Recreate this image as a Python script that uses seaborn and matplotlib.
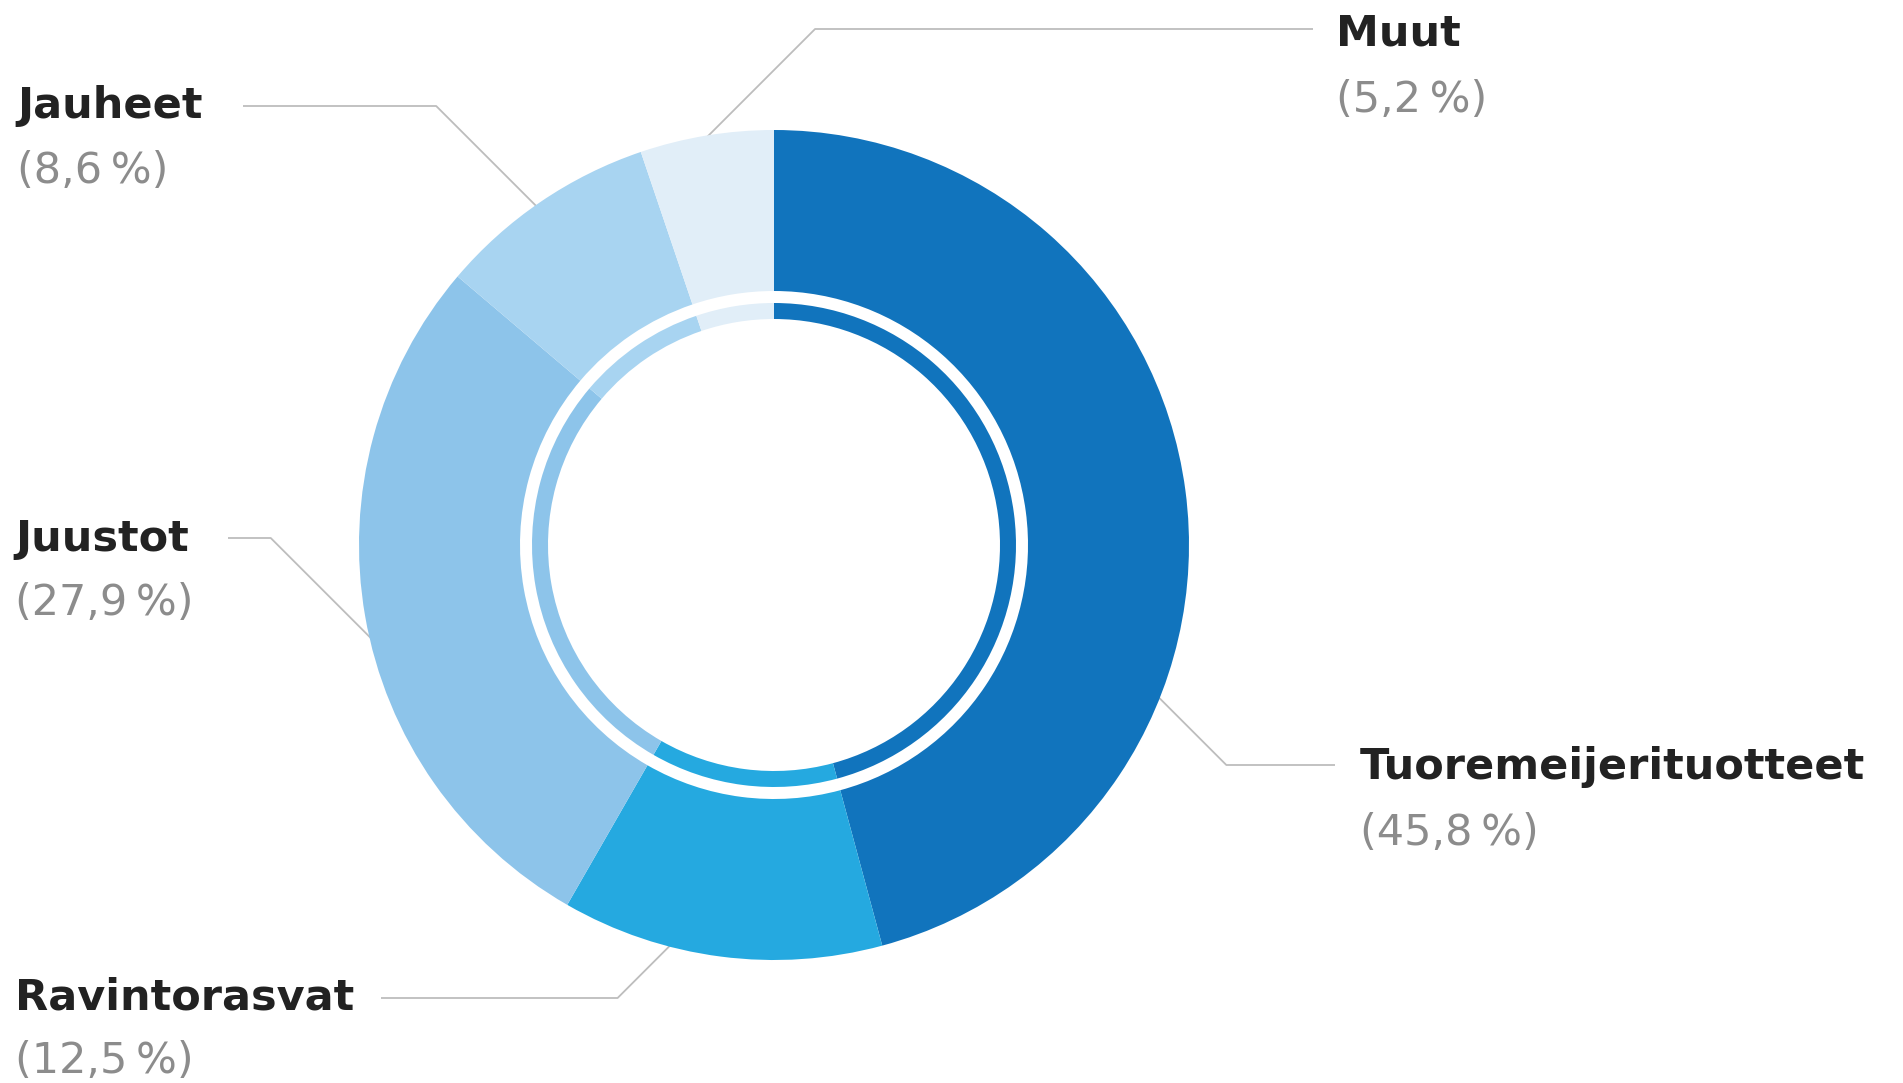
import matplotlib
matplotlib.use("Agg", force=True)
import matplotlib.pyplot as plt
import numpy as np
import seaborn as sns

# product group shares of net sales (%)
categories = ["Tuoremeijerituotteet", "Ravintorasvat", "Juustot", "Jauheet", "Muut"]
shares = [45.8, 12.5, 27.9, 8.6, 5.2]
colors = ["#1174bd", "#25a9e0", "#8dc4ea", "#a8d4f1", "#e1eef8"]

# label layout: anchor angle (deg, clockwise from top), leader y, leader end x, text x
anchor_angle = [111.5, 194.4, 256.6, 325.0, 350.4]
leader_y = [765, 998, 538, 106, 29]
leader_end_x = [1335, 381, 228, 243, 1313]
text_x = [1360, 15, 15, 17, 1336]
name_baseline = [779, 1009, 551, 118, 46]
pct_baseline = [845, 1073, 615, 183, 112]

W, H = 1903, 1083
CX, CY = 774, 538
R_OUT, R_OUT_IN = 415, 254
R_IN, R_IN_IN = 242, 226

sns.set_theme(style="white")
plt.rcParams["font.family"] = ["DejaVu Sans"]

fig = plt.figure(figsize=(W / 100, H / 100), dpi=100)
ax = fig.add_axes([0, 0, 1, 1])

ax.pie(shares, colors=colors, startangle=90, counterclock=False,
       radius=R_OUT, center=(CX, CY),
       wedgeprops=dict(width=R_OUT - R_OUT_IN, linewidth=0), normalize=True)
ax.pie(shares, colors=colors, startangle=90, counterclock=False,
       radius=R_IN, center=(CX, CY),
       wedgeprops=dict(width=R_IN - R_IN_IN, linewidth=0), normalize=True)

for i, name in enumerate(categories):
    a = np.deg2rad(anchor_angle[i])
    sx = CX + (R_OUT - 3) * np.sin(a)
    sy_px = (H - CY) - (R_OUT - 3) * np.cos(a)
    dy = abs(leader_y[i] - sy_px)
    ex = sx + dy if leader_end_x[i] > sx else sx - dy
    xs = [sx, ex, leader_end_x[i]]
    ys = [H - sy_px, H - leader_y[i], H - leader_y[i]]
    ax.plot(xs, ys, color="#bdbdbd", lw=1.3, zorder=0, solid_capstyle="butt")

    ax.text(text_x[i], H - name_baseline[i], name, fontsize=31, fontweight="bold",
            color="#222222", va="baseline", ha="left")
    pct = f"({shares[i]:.1f}\u2009%)".replace(".", ",")
    ax.text(text_x[i], H - pct_baseline[i], pct, fontsize=31, fontweight="normal",
            color="#8c8c8c", va="baseline", ha="left")

ax.set_xlim(0, W)
ax.set_ylim(0, H)
ax.set_aspect("auto")
ax.axis("off")

fig.savefig("out.png", dpi=100, facecolor="white")
